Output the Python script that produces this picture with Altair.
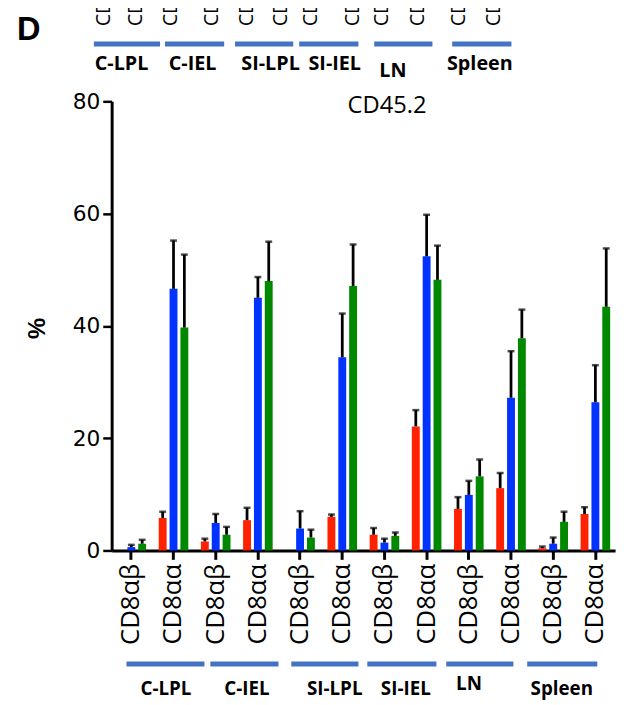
import altair as alt
import pandas as pd

# ---- data ----
tissues = ["C-LPL", "C-IEL", "SI-LPL", "SI-IEL", "LN", "Spleen"]
subsets = ["CD8αβ", "CD8αα"]
series = ["Group 1", "Group 2", "Group 3"]

red = [0.0, 5.8, 1.6, 5.4, 0.0, 6.0, 2.8, 22.1, 7.4, 11.1, 0.4, 6.5]
red_err = [0.0, 1.1, 0.5, 2.2, 0.0, 0.4, 1.2, 2.9, 2.1, 2.7, 0.3, 1.2]
blue = [0.6, 46.6, 4.9, 45.0, 3.9, 34.4, 1.4, 52.4, 9.9, 27.2, 1.2, 26.4]
blue_err = [0.4, 8.6, 1.6, 3.7, 3.1, 7.8, 0.7, 7.4, 2.5, 8.3, 1.1, 6.6]
green = [1.2, 39.7, 2.8, 48.0, 2.3, 47.1, 2.6, 48.2, 13.2, 37.8, 5.1, 43.4]
green_err = [0.7, 13.0, 1.4, 7.0, 1.4, 7.4, 0.6, 6.1, 3.0, 5.1, 1.8, 10.4]

y_ticks = [0, 20, 40, 60, 80]
title_text = "CD45.2"
y_label = "%"
panel_label = "D"

colors = ["#ff2200", "#0033ff", "#008800"]
line_blue = "#4472c4"

cats = [f"{t}|{s}" for t in tissues for s in subsets]
rows = []
for ser, vals, errs in zip(series, [red, blue, green], [red_err, blue_err, green_err]):
    for c, v, e in zip(cats, vals, errs):
        rows.append({"cat": c, "series": ser, "value": v, "top": v + e, "err": e})
df = pd.DataFrame(rows)

W, H = 510, 455

x_enc = alt.X(
    "cat:N", sort=cats, title=None,
    scale=alt.Scale(paddingInner=0.229, paddingOuter=0.081),
    axis=alt.Axis(
        labelExpr="split(datum.label, '|')[1]", labelAngle=270,
        labelFont="Open Sans", labelFontSize=26, labelColor="black",
        labelPadding=4, tickSize=9, tickWidth=3, tickColor="black",
        domainColor="black", domainWidth=3, grid=False,
    ),
)
xo_enc = alt.XOffset("series:N", sort=series,
                     scale=alt.Scale(paddingInner=0.273, paddingOuter=0.136))
y_enc = alt.Y(
    "value:Q", title=None,
    scale=alt.Scale(domain=[0, 80], nice=False),
    axis=alt.Axis(
        values=y_ticks, labelFont="DejaVu Sans", labelFontSize=22,
        labelColor="black", labelPadding=3, tickSize=9, tickWidth=2.5,
        tickColor="black", domainColor="black", domainWidth=3, grid=False,
    ),
)

base = alt.Chart(df)
bars = base.mark_bar().encode(
    x=x_enc, xOffset=xo_enc, y=y_enc,
    color=alt.Color("series:N", sort=series,
                    scale=alt.Scale(domain=series, range=colors), legend=None),
)
err_df = base.transform_filter("datum.err > 0")
rules = err_df.mark_rule(color="black", strokeWidth=2.8).encode(
    x=x_enc, xOffset=xo_enc, y="value:Q", y2="top:Q")
caps = err_df.mark_tick(color="black", thickness=2.5, size=7).encode(
    x=x_enc, xOffset=xo_enc, y="top:Q")

layers = [bars, rules, caps]


def txt(t, x, y, size, weight="normal", font="Open Sans", angle=0, align="center", baseline="middle"):
    return alt.Chart(pd.DataFrame({"t": [t]})).mark_text(
        font=font, fontSize=size, fontWeight=weight, angle=angle, align=align,
        baseline=baseline, color="black",
    ).encode(x=alt.value(x), y=alt.value(y), text="t:N")


def hline(x1, x2, y, w):
    return alt.Chart(pd.DataFrame({"a": [0]})).mark_rule(
        color=line_blue, strokeWidth=w).encode(
        x=alt.value(x1), x2=alt.value(x2), y=alt.value(y))


# annotation positions (pixels, relative to plot area)
bottom_lines = [(15, 94), (100, 169), (182, 250), (259, 329), (339, 407), (421, 492)]
bottom_lab_x = [55, 137, 226, 298, 362, 456]
bottom_lab_y = [595, 595, 595, 595, 590, 595]
top_lines = [(-18, 49), (54, 114), (125, 184), (190, 250), (266, 325), (345, 405)]
top_lab_x = [10, 82, 161, 226, 285, 373]
top_lab_y = [-38, -38, -38, -38, -31, -38]
top_cd_x = [-8, 25, 60, 102, 137, 172, 202, 245, 274, 310, 352, 387]

for (a, b), lx, ly, t in zip(bottom_lines, bottom_lab_x, bottom_lab_y, tissues):
    layers.append(hline(a, b, 570, 5))
    layers.append(txt(t, lx, ly, 19, weight="bold"))
for (a, b), lx, ly, t in zip(top_lines, top_lab_x, top_lab_y, tissues):
    layers.append(hline(a, b, -58, 5))
    layers.append(txt(t, lx, ly, 20, weight="bold"))
for i, cx in enumerate(top_cd_x):
    layers.append(txt(subsets[i % 2], cx, -76, 20, angle=270, align="left"))

layers.append(txt(panel_label, -84, -72, 33, weight="bold", font="Liberation Sans"))
layers.append(txt(y_label, -75, 230, 24, weight="bold", font="Liberation Sans", angle=270))
layers.append(txt(title_text, 279, 5, 24))

chart = alt.layer(*layers).properties(
    width=W, height=H,
    autosize=alt.AutoSizeParams(type="none"),
    padding={"left": 105, "top": 90, "right": 5, "bottom": 152},
).configure_view(strokeWidth=0)

chart.save("out.html", embed_options={"renderer": "svg", "actions": False})
